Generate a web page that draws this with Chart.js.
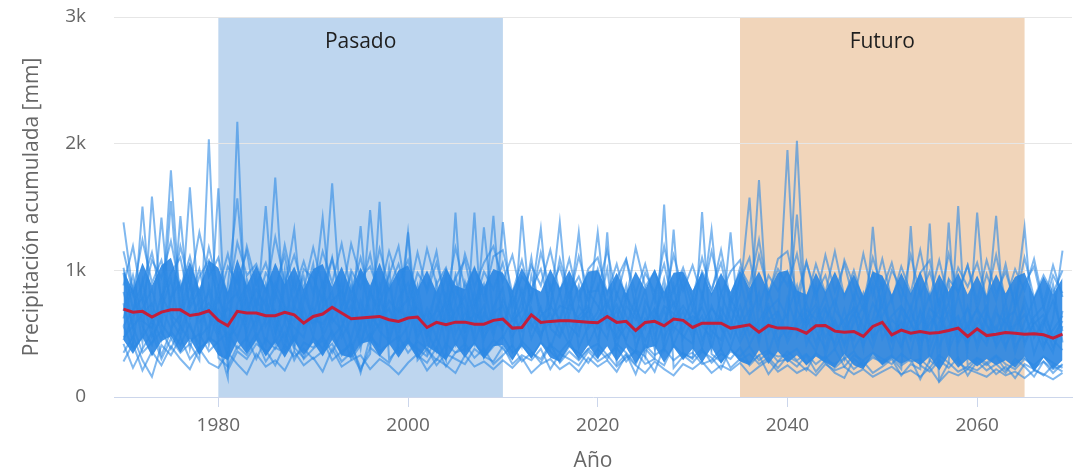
<!DOCTYPE html>
<html lang="es">
<head>
<meta charset="utf-8">
<title>Precipitación acumulada</title>
<script src="https://cdn.jsdelivr.net/npm/chart.js@4.4.1/dist/chart.umd.min.js"></script>
<style>
  html, body { margin: 0; padding: 0; background: #fff; }
  #wrap { width: 1077px; height: 474px; position: relative; }
</style>
</head>
<body>
<div id="wrap"><canvas id="chart"></canvas></div>
<script>
// years on the x axis
const firstYear = 1970, lastYear = 2069;
const years = [];
for (let y = firstYear; y <= lastYear; y++) years.push(y);

const xTicks = [1980, 2000, 2020, 2040, 2060];
const yTicks = [0, 1000, 2000, 3000];
const yTickLabels = ['0', '1k', '2k', '3k'];

// reference periods
const periodLabels = ['Pasado', 'Futuro'];
const periodStart = [1980, 2035];
const periodEnd = [2010, 2065];

// ensemble mean (red)
const meanSeries = [
  694, 670, 676, 631, 670, 688, 688, 644, 655, 681,
  605, 562, 676, 663, 663, 642, 642, 668, 649, 583,
  636, 655, 708, 663, 618, 623, 629, 636, 610, 597,
  623, 631, 549, 589, 570, 591, 591, 575, 575, 605,
  615, 544, 549, 649, 589, 597, 602, 602, 597, 591,
  586, 636, 589, 597, 525, 589, 597, 562, 615, 605,
  549, 583, 583, 583, 544, 557, 570, 512, 565, 544,
  544, 536, 504, 562, 565, 520, 512, 517, 478, 557,
  589, 491, 528, 504, 517, 504, 509, 525, 544, 478,
  538, 485, 496, 509, 504, 496, 499, 491, 465, 496
];

// dense core of the ensemble (where the runs overlap almost solid)
const coreLow = [
  450, 340, 470, 320, 440, 480, 350, 460, 330, 450,
  330, 290, 440, 340, 450, 320, 430, 310, 440, 330,
  430, 320, 450, 330, 310, 420, 440, 320, 420, 310,
  420, 300, 400, 350, 290, 410, 310, 420, 300, 400,
  410, 290, 400, 300, 420, 310, 280, 400, 300, 410,
  300, 400, 280, 390, 260, 380, 400, 270, 390, 290,
  380, 270, 390, 260, 370, 280, 250, 370, 260, 360,
  270, 330, 250, 320, 270, 230, 340, 250, 220, 340,
  250, 310, 260, 300, 250, 320, 210, 330, 230, 300,
  240, 300, 250, 290, 230, 320, 200, 310, 220, 290
];
const coreHigh = [
  1000, 840, 1060, 880, 1040, 1100, 870, 1070, 850, 1080,
  1020, 830, 1090, 880, 1040, 860, 1060, 890, 1030, 850,
  1010, 1050, 870, 1030, 840, 1020, 880, 1060, 860, 1000,
  1040, 850, 1000, 830, 1020, 880, 850, 1030, 870, 1010,
  980, 840, 1020, 870, 830, 1010, 860, 1000, 840, 990,
  1000, 840, 980, 820, 990, 850, 1010, 830, 980, 990,
  840, 990, 820, 980, 830, 1000, 860, 990, 830, 980,
  1000, 840, 810, 980, 830, 990, 820, 970, 800, 990,
  960, 810, 980, 820, 990, 800, 970, 830, 980, 810,
  960, 800, 970, 820, 950, 980, 790, 950, 810, 940
];

// individual model runs
const run01 = [
  1378, 820, 560, 410, 690, 930, 520, 760, 1010, 640,
  470, 880, 1568, 720, 540, 890, 610, 380, 770, 950,
  560, 700, 830, 470, 610, 990, 680, 520, 440, 780,
  900, 610, 350, 720, 540, 860, 700, 480, 1340, 620,
  530, 780, 410, 960, 680, 560, 830, 470, 720, 610,
  880, 540, 690, 420, 350, 760, 610, 930, 520, 680,
  470, 740, 1320, 560, 390, 610, 820, 450, 700, 530,
  660, 880, 410, 590, 720, 380, 540, 810, 470, 620,
  920, 450, 580, 340, 690, 510, 760, 430, 620, 380,
  1456, 560, 420, 680, 350, 590, 770, 410, 530, 640
];
const run02 = [
  980, 540, 1504, 620, 450, 780, 910, 380, 690, 830,
  560, 320, 740, 880, 610, 1507, 520, 690, 430, 760,
  1050, 480, 640, 910, 370, 560, 820, 690, 510, 940,
  430, 780, 520, 360, 690, 580, 910, 640, 450, 710,
  860, 390, 1430, 580, 470, 720, 610, 930, 390, 560,
  670, 1010, 450, 560, 780, 320, 690, 540, 880, 460,
  610, 390, 720, 540, 1300, 480, 630, 820, 350, 580,
  470, 690, 560, 880, 320, 610, 430, 720, 560, 390,
  640, 780, 410, 560, 860, 290, 520, 680, 450, 710,
  380, 620, 1430, 470, 580, 720, 340, 560, 890, 430
];
const run03 = [
  620, 880, 430, 1583, 710, 540, 650, 980, 470, 560,
  860, 410, 690, 520, 770, 640, 1733, 590, 380, 700,
  480, 830, 590, 710, 960, 430, 640, 550, 890, 520,
  690, 460, 610, 830, 380, 740, 520, 660, 590, 1430,
  470, 620, 850, 540, 710, 380, 600, 820, 530, 690,
  450, 720, 610, 880, 390, 580, 700, 460, 640, 910,
  520, 640, 380, 700, 560, 810, 1575, 480, 620, 390,
  780, 540, 650, 420, 690, 560, 300, 640, 820, 470,
  560, 430, 710, 590, 380, 640, 520, 910, 420, 580,
  690, 450, 560, 380, 720, 1340, 470, 610, 390, 560
];
const run04 = [
  740, 430, 920, 560, 1417, 620, 480, 700, 850, 410,
  690, 560, 980, 450, 620, 780, 510, 860, 1322, 540,
  640, 910, 470, 560, 720, 380, 850, 610, 700, 450,
  560, 880, 480, 620, 740, 410, 590, 830, 520, 660,
  720, 480, 610, 790, 1330, 540, 470, 650, 880, 420,
  580, 460, 820, 640, 510, 700, 380, 600, 750, 530,
  690, 560, 470, 820, 610, 430, 580, 1713, 510, 660,
  430, 600, 740, 520, 380, 690, 580, 450, 640, 890,
  460, 610, 530, 720, 440, 580, 680, 370, 560, 700,
  520, 410, 660, 590, 460, 780, 540, 380, 620, 1156
];
const run05 = [
  560, 690, 780, 480, 620, 1789, 700, 550, 420, 880,
  620, 460, 560, 930, 700, 420, 830, 640, 550, 470,
  760, 1417, 620, 530, 880, 690, 420, 760, 580, 630,
  1300, 540, 660, 470, 810, 620, 430, 700, 890, 520,
  1380, 640, 520, 700, 450, 880, 560, 410, 640, 720,
  540, 660, 380, 720, 610, 850, 470, 690, 410, 600,
  780, 450, 630, 380, 710, 560, 690, 420, 840, 600,
  1950, 480, 620, 730, 550, 420, 690, 380, 510, 740,
  600, 350, 680, 470, 590, 810, 400, 560, 640, 430,
  580, 720, 390, 540, 860, 410, 600, 480, 350, 680
];
const run06 = [
  830, 560, 650, 740, 520, 1546, 610, 880, 590, 700,
  510, 740, 820, 600, 950, 560, 680, 450, 710, 620,
  580, 680, 1686, 600, 460, 760, 560, 880, 430, 700,
  610, 720, 450, 900, 560, 670, 800, 420, 660, 540,
  630, 530, 760, 460, 640, 710, 1380, 560, 480, 830,
  720, 590, 470, 800, 650, 440, 620, 860, 560, 480,
  420, 820, 560, 640, 470, 720, 490, 600, 730, 450,
  550, 2022, 480, 360, 610, 770, 520, 660, 410, 580,
  720, 540, 390, 660, 510, 440, 890, 600, 470, 560,
  430, 660, 520, 750, 400, 510, 630, 720, 450, 370
];
const run07 = [
  450, 640, 700, 850, 580, 470, 1428, 620, 760, 510,
  780, 600, 470, 690, 850, 720, 420, 590, 930, 560,
  700, 520, 760, 840, 620, 1349, 470, 580, 760, 670,
  780, 490, 700, 560, 620, 960, 530, 760, 470, 600,
  560, 820, 590, 670, 500, 600, 720, 690, 1300, 540,
  620, 760, 560, 450, 700, 540, 820, 370, 610, 720,
  600, 710, 520, 450, 780, 620, 410, 560, 690, 770,
  620, 1441, 560, 690, 470, 600, 400, 580, 720, 450,
  820, 470, 600, 450, 670, 380, 590, 740, 510, 430,
  620, 480, 710, 400, 560, 650, 470, 580, 760, 520
];
const run08 = [
  680, 960, 600, 540, 800, 650, 570, 1655, 640, 740,
  590, 700, 630, 780, 470, 610, 900, 720, 590, 820,
  610, 580, 700, 650, 790, 540, 1475, 640, 690, 560,
  650, 700, 580, 680, 950, 500, 660, 590, 720, 480,
  770, 600, 680, 1100, 570, 660, 490, 740, 610, 680,
  1300, 600, 730, 560, 470, 620, 540, 720, 660, 580,
  640, 580, 700, 610, 540, 940, 600, 500, 610, 680,
  500, 570, 690, 610, 800, 520, 610, 700, 380, 1343,
  540, 640, 720, 580, 460, 700, 620, 500, 800, 540,
  700, 570, 460, 620, 680, 440, 580, 650, 480, 600
];
const run09 = [
  420, 230, 380, 510, 300, 460, 350, 420, 290, 2035,
  310, 240, 400, 330, 460, 280, 390, 350, 480, 300,
  380, 450, 290, 360, 410, 230, 340, 1541, 300, 380,
  460, 330, 270, 390, 240, 350, 420, 310, 380, 260,
  330, 410, 280, 350, 300, 420, 270, 360, 290, 380,
  310, 1300, 260, 340, 180, 380, 300, 250, 410, 330,
  270, 360, 310, 220, 380, 290, 340, 260, 310, 230,
  320, 280, 210, 350, 270, 190, 150, 300, 240, 330,
  260, 310, 220, 1350, 250, 200, 290, 230, 310, 170,
  280, 210, 260, 190, 300, 240, 160, 280, 220, 250
];
const run10 = [
  350, 480, 290, 160, 410, 330, 470, 300, 390, 440,
  1647, 210, 360, 300, 420, 370, 250, 410, 320, 380,
  300, 360, 420, 280, 350, 210, 390, 330, 270, 410,
  1300, 290, 380, 250, 340, 300, 260, 380, 320, 280,
  400, 260, 330, 290, 380, 220, 340, 300, 250, 360,
  280, 330, 240, 310, 360, 260, 300, 1520, 230, 320,
  350, 260, 290, 380, 230, 300, 270, 330, 180, 280,
  300, 240, 330, 200, 290, 260, 310, 220, 280, 190,
  240, 300, 170, 260, 220, 1370, 130, 270, 200, 240,
  210, 270, 180, 240, 150, 260, 220, 170, 250, 200
];
const run11 = [
  560, 380, 470, 600, 330, 520, 410, 580, 360, 470,
  420, 150, 2172, 380, 500, 340, 450, 1000, 390, 310,
  470, 380, 520, 330, 440, 190, 470, 400, 1020, 350,
  440, 380, 320, 470, 290, 1456, 360, 420, 340, 450,
  380, 300, 440, 360, 270, 410, 350, 440, 300, 380,
  420, 330, 390, 280, 370, 320, 200, 400, 1322, 340,
  310, 380, 270, 340, 300, 390, 250, 330, 370, 280,
  360, 290, 340, 260, 320, 230, 300, 360, 250, 310,
  280, 330, 250, 300, 140, 290, 230, 1377, 270, 220,
  300, 250, 320, 210, 270, 310, 230, 280, 190, 260
];
const run12 = [
  470, 560, 350, 430, 520, 380, 560, 440, 500, 360,
  440, 510, 380, 470, 300, 460, 380, 510, 290, 430,
  390, 480, 350, 520, 300, 410, 500, 360, 420, 480,
  350, 440, 380, 290, 420, 350, 380, 1456, 310, 400,
  480, 350, 410, 320, 430, 360, 280, 400, 350, 270,
  380, 300, 420, 350, 260, 410, 330, 380, 290, 350,
  300, 1460, 340, 280, 360, 320, 400, 290, 350, 320,
  330, 380, 260, 340, 300, 380, 240, 330, 290, 350,
  300, 260, 340, 280, 300, 230, 330, 270, 1507, 250,
  310, 270, 330, 260, 220, 300, 250, 320, 270, 230
];
const run13 = [
  1150, 820, 1240, 900, 1080, 760, 1190, 880, 1300, 950,
  1100, 780, 1220, 960, 1050, 830, 1260, 900, 1120, 850,
  1180, 870, 1090, 780, 1210, 940, 1030, 820, 1150, 900,
  1080, 800, 1170, 890, 1020, 760, 1130, 870, 1060, 1190,
  910, 1120, 780, 1040, 880, 1160, 820, 1090, 760, 1010,
  1100, 820, 1050, 760, 1180, 870, 990, 760, 1120, 840,
  1040, 790, 1150, 820, 990, 1080, 760, 1120, 830, 1010,
  880, 1130, 760, 1050, 820, 1150, 790, 1000, 740, 1100,
  850, 1060, 760, 1120, 800, 990, 740, 1130, 820, 1040,
  760, 1080, 820, 990, 740, 1100, 780, 960, 820, 1000
];
const run14 = [
  880, 1190, 760, 1080, 940, 1230, 850, 1110, 780, 1180,
  860, 1130, 800, 1190, 890, 1060, 780, 1200, 840, 1070,
  820, 1150, 900, 1210, 830, 1100, 790, 1170, 860, 1050,
  790, 1140, 830, 1060, 770, 1180, 860, 1020, 780, 1110,
  1160, 820, 1080, 760, 1140, 850, 1030, 770, 1110, 830,
  840, 1160, 790, 1080, 820, 1050, 760, 1190, 830, 1020,
  780, 1100, 820, 1160, 760, 1020, 880, 1240, 790, 1090,
  1150, 800, 1070, 770, 1120, 830, 1050, 760, 1130, 800,
  1090, 760, 1030, 820, 1160, 780, 1080, 760, 1020, 870,
  1060, 780, 1120, 760, 1010, 840, 1090, 740, 1040, 790
];
const run15 = [
  1020, 700, 900, 1140, 780, 980, 1100, 720, 950, 1080,
  760, 1030, 900, 1150, 720, 980, 860, 1120, 700, 1010,
  940, 760, 1100, 690, 1000, 860, 1130, 740, 960, 1190,
  720, 980, 860, 1150, 700, 940, 1080, 730, 990, 850,
  1060, 720, 950, 860, 1010, 700, 1090, 820, 950, 760,
  1010, 720, 930, 1090, 700, 980, 830, 1050, 710, 960,
  700, 990, 850, 1060, 720, 930, 1100, 700, 960, 840,
  990, 710, 1060, 820, 960, 700, 1080, 880, 690, 980,
  720, 1000, 860, 690, 980, 1080, 700, 930, 830, 1040,
  690, 970, 760, 1050, 700, 900, 1030, 700, 960, 820
];
const run16 = [
  280, 420, 210, 360, 250, 400, 300, 220, 380, 270,
  230, 350, 260, 180, 340, 240, 290, 210, 360, 250,
  310, 200, 380, 240, 290, 330, 220, 300, 250, 180,
  270, 340, 210, 300, 250, 190, 330, 240, 280, 220,
  290, 230, 310, 190, 260, 300, 220, 270, 200, 310,
  240, 290, 200, 330, 250, 190, 280, 220, 170, 260,
  220, 280, 190, 250, 210, 270, 180, 240, 290, 200,
  250, 190, 230, 170, 260, 210, 240, 180, 220, 160,
  200, 240, 180, 210, 160, 230, 120, 200, 170, 220,
  190, 160, 220, 170, 200, 150, 210, 180, 140, 190
];
const runs = [run01, run02, run03, run04, run05, run06, run07, run08,
              run09, run10, run11, run12, run13, run14, run15, run16];

const toPoints = arr => arr.map((v, i) => ({ x: years[i], y: v }));
const FONT = '"Open Sans", "Noto Sans", sans-serif';

const periodBands = {
  id: 'periodBands',
  beforeDraw(chart, args, opts) {
    const { ctx, chartArea: a, scales: { x } } = chart;
    ctx.save();
    periodLabels.forEach((label, i) => {
      const x0 = x.getPixelForValue(periodStart[i]);
      const x1 = x.getPixelForValue(periodEnd[i]);
      ctx.fillStyle = opts.colors[i];
      ctx.fillRect(x0, a.top, x1 - x0, a.bottom - a.top);
      ctx.fillStyle = '#1e1e1e';
      ctx.font = '21px ' + FONT;
      ctx.textAlign = 'center';
      ctx.textBaseline = 'middle';
      ctx.fillText(label, (x0 + x1) / 2, a.top + 25);
    });
    ctx.restore();
  }
};

const datasets = [];
datasets.push({
  label: 'Media', data: toPoints(meanSeries),
  borderColor: '#c41e3a', borderWidth: 3, pointRadius: 0, tension: 0, order: 0
});
runs.forEach((r, i) => datasets.push({
  label: 'Modelo ' + (i + 1), data: toPoints(r),
  borderColor: 'rgba(44, 136, 228, 0.6)', borderWidth: 2, pointRadius: 0, tension: 0, order: 1
}));
datasets.push({
  label: 'core-low', data: toPoints(coreLow),
  borderWidth: 0, borderColor: 'rgba(0,0,0,0)', pointRadius: 0, tension: 0, fill: false, order: 2
});
datasets.push({
  label: 'core-high', data: toPoints(coreHigh),
  borderWidth: 0, borderColor: 'rgba(0,0,0,0)', pointRadius: 0, tension: 0,
  fill: datasets.length - 1, backgroundColor: 'rgba(40, 133, 227, 0.9)', order: 2
});

new Chart(document.getElementById('chart'), {
  type: 'line',
  data: { datasets },
  plugins: [periodBands],
  options: {
    animation: false,
    responsive: true,
    maintainAspectRatio: false,
    layout: { padding: { top: 17, right: 5, left: 0, bottom: 0 } },
    plugins: {
      legend: { display: false },
      tooltip: { enabled: false },
      periodBands: { colors: ['#bed6ef', '#f1d5ba'] }
    },
    scales: {
      x: {
        type: 'linear', min: 1969, max: 2070,
        afterBuildTicks: s => { s.ticks = xTicks.map(v => ({ value: v })); },
        afterFit: s => { s.height = 77; s.paddingLeft = 0; s.paddingRight = 0; },
        grid: { drawOnChartArea: false, drawTicks: true, tickLength: 10, color: '#ccd6eb' },
        border: { display: true, color: '#ccd6eb' },
        ticks: {
          color: '#666', font: { family: FONT, size: 19 }, padding: 7, maxRotation: 0,
          callback: v => String(v)
        },
        title: {
          display: true, text: 'Año', color: '#666',
          font: { family: FONT, size: 21 }, padding: { top: 0, bottom: 0 }
        }
      },
      y: {
        min: 0, max: 3000,
        afterBuildTicks: s => { s.ticks = yTicks.map(v => ({ value: v })); },
        afterFit: s => { s.width = 114; s.paddingTop = 0; s.paddingBottom = 0; },
        grid: {
          drawTicks: false,
          color: c => (c.tick && c.tick.value === 0) ? 'rgba(0,0,0,0)' : '#e6e6e6'
        },
        border: { display: false },
        ticks: {
          color: '#666', font: { family: FONT, size: 19 }, padding: 28,
          callback: v => yTickLabels[yTicks.indexOf(v)]
        },
        title: {
          display: true, text: 'Precipitación acumulada [mm]', color: '#666',
          font: { family: FONT, size: 21 }, padding: { top: 19, bottom: 0 }
        }
      }
    }
  }
});
</script>
</body>
</html>
